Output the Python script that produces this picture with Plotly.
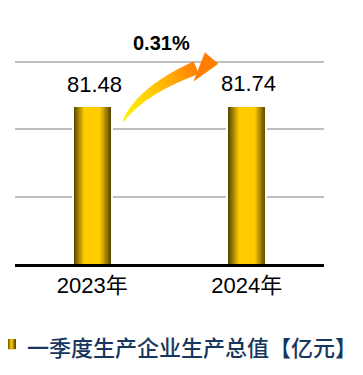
import plotly.graph_objects as go
import numpy as np

# ---- data ----
categories = ["2023年", "2024年"]
values = [81.48, 81.74]
value_labels = ["81.48", "81.74"]
growth_label = "0.31%"
legend_label = "一季度生产企业生产总值【亿元】"

# page body has an 8px margin: lay the figure out in screen pixels, shifted by OFF
OFF = 8
W, H = 363 - OFF, 375 - OFF
YTOP = 108.0
PX_PER_UNIT = (264 - 62) / 105.0
ML = 15 - OFF
MR = 363 - 324
MB = 375 - 264
PW = W - ML - MR
PH = YTOP * PX_PER_UNIT
MT = H - MB - PH


def px(x, y):
    # screen pixel -> paper coords
    fx, fy = x - OFF, y - OFF
    return (fx - ML) / PW, (H - MB - fy) / PH


def mix(c1, c2, t):
    return "rgb(%d,%d,%d)" % tuple(int(round(a + (b - a) * t)) for a, b in zip(c1, c2))


DARK = (92, 74, 0)
GOLD = (255, 204, 0)

fig = go.Figure()
BW = 0.24
fig.add_trace(go.Bar(x=categories, y=values, width=BW + 4 / 154.5,
                     marker=dict(color="white", line=dict(width=0)),
                     hoverinfo="skip", showlegend=False))
N = 14
for i in range(N):
    f = 1 - i / N * 0.6
    t = min(1.0, i / (N - 1))
    fig.add_trace(go.Bar(x=categories, y=values, width=BW * f,
                         marker=dict(color=mix(DARK, GOLD, t), line=dict(width=0)),
                         hoverinfo="skip", showlegend=False))

annotations = []
for c, v, lab in zip(categories, values, value_labels):
    annotations.append(dict(x=c, y=v, text=lab, showarrow=False, xref="x", yref="y",
                            yanchor="middle", yshift=23, xshift=2,
                            font=dict(family="Arial, Liberation Sans", size=22, color="#000000")))

gx, gy = px(161, 43)
annotations.append(dict(x=gx, y=gy, xref="paper", yref="paper", text="<b>%s</b>" % growth_label,
                        showarrow=False, xanchor="center", yanchor="middle",
                        font=dict(family="Arial, Liberation Sans", size=20, color="#000000")))

lx, ly = px(25, 346)
annotations.append(dict(x=lx, y=ly, xref="paper", yref="paper", text=legend_label, showarrow=False,
                        xanchor="left", yanchor="middle",
                        font=dict(family="Noto Sans CJK SC", size=22, color="#17375E", weight=500)))

shapes = []
# curved gradient arrow
P0 = np.array([123.0, 122.0]); P1 = np.array([140.3, 90.9]); P2 = np.array([196.0, 68.0])
YEL = (255, 240, 0); ORA = (255, 128, 0)
n = 40
ts = np.linspace(0, 1, n + 1)
pts = [(1 - t) ** 2 * P0 + 2 * (1 - t) * t * P1 + t ** 2 * P2 for t in ts]
ders = [2 * (1 - t) * (P1 - P0) + 2 * t * (P2 - P1) for t in ts]
hw = [6.5 * t ** 0.7 for t in ts]
for k in range(n):
    def edge(j, s):
        d = ders[j] / np.linalg.norm(ders[j])
        nrm = np.array([d[1], -d[0]])
        p = pts[j] + s * hw[j] * nrm
        return px(p[0], p[1])
    a = edge(k, 1); b = edge(k + 1, 1); c = edge(k + 1, -1); d = edge(k, -1)
    col = mix(YEL, ORA, ((k + 0.5) / n) ** 1.6)
    path = "M %f %f L %f %f L %f %f L %f %f Z" % (a[0], a[1], b[0], b[1], c[0], c[1], d[0], d[1])
    shapes.append(dict(type="path", path=path, xref="paper", yref="paper",
                       fillcolor=col, line=dict(color=col, width=0.6), layer="above"))
tip = px(218, 64); up = px(205, 53); lo = px(194, 81)
shapes.append(dict(type="path", xref="paper", yref="paper",
                   path="M %f %f L %f %f L %f %f Z" % (tip[0], tip[1], up[0], up[1], lo[0], lo[1]),
                   fillcolor="rgb(255,125,0)", line=dict(color="rgb(255,125,0)", width=0.6), layer="above"))

# legend swatch
for i in range(5):
    x0, y0 = px(7 + i, 349)
    x1, y1 = px(16 - i, 339)
    shapes.append(dict(type="rect", xref="paper", yref="paper", x0=x0, x1=x1, y0=y0, y1=y1,
                       fillcolor=mix(DARK, GOLD, i / 4), line=dict(width=0), layer="above"))

fig.update_layout(
    width=W, height=H, margin=dict(l=ML, r=MR, t=MT, b=MB, autoexpand=False),
    paper_bgcolor="white", plot_bgcolor="white",
    barmode="overlay", bargap=0, showlegend=False,
    annotations=annotations, shapes=shapes,
    xaxis=dict(type="category", range=[-0.5, 1.5], showgrid=False, showline=True,
               linecolor="black", linewidth=3, ticks="", automargin=False,
               tickfont=dict(family="Arial, Liberation Sans, Noto Sans CJK SC", size=22, color="#000000")),
    yaxis=dict(range=[0, YTOP], dtick=35, showgrid=True, gridcolor="#BFBFBF", gridwidth=1.5,
               zeroline=False, showticklabels=False, showline=False, automargin=False),
)

fig.write_html("out.html")
